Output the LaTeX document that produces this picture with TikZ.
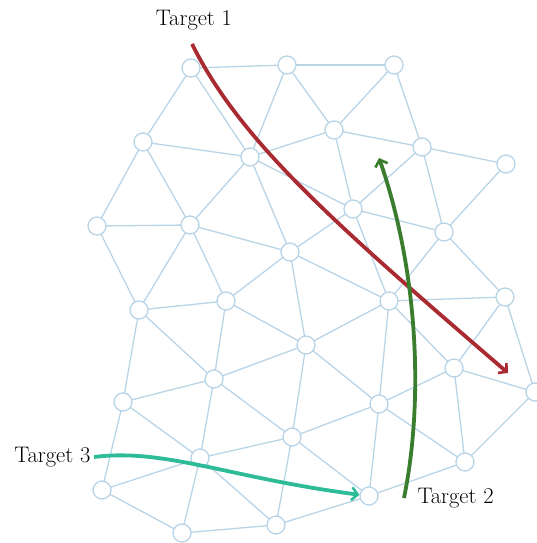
\documentclass[tikz,border=0pt]{standalone}
\usepackage{fontspec}
\usepackage{tikz}
\usetikzlibrary{arrows.meta,positioning}
\definecolor{mesh}{HTML}{B9D4E7}
\definecolor{pathone}{HTML}{A92B31}
\definecolor{pathtwo}{HTML}{3A7D2E}
\definecolor{paththree}{HTML}{2DBC97}

\begin{document}
\begin{tikzpicture}[x=1pt,y=-1pt,font=\fontsize{22.5}{26}\selectfont,
  vert/.style={circle,draw=mesh,fill=white,line width=1.3pt,minimum size=18pt,inner sep=0pt},
  edge/.style={draw=mesh,line width=1.3pt},
  route/.style={line width=3.8pt,-{Straight Barb[length=6pt,width=13pt,line width=2.6pt]}}]
\useasboundingbox (0,0) rectangle (537,543);
\coordinate (c1) at (191,68);  \coordinate (c2) at (287,65);  \coordinate (c3) at (394,65);
\coordinate (c4) at (143,142); \coordinate (c5) at (250,157); \coordinate (c6) at (334,130);
\coordinate (c7) at (422,147); \coordinate (c8) at (506,164); \coordinate (c9) at (97,226);
\coordinate (c10) at (190,225); \coordinate (c11) at (353,209); \coordinate (c12) at (444,232);
\coordinate (c13) at (290,252); \coordinate (c14) at (139,310); \coordinate (c15) at (226,301);
\coordinate (c16) at (389,301); \coordinate (c17) at (505,297); \coordinate (c18) at (306,345);
\coordinate (c19) at (454,368); \coordinate (c20) at (214,379); \coordinate (c21) at (535,392);
\coordinate (c22) at (123,402); \coordinate (c23) at (379,404); \coordinate (c24) at (292,437);
\coordinate (c25) at (200,458); \coordinate (c26) at (465,462); \coordinate (c27) at (102,490);
\coordinate (c28) at (369,496); \coordinate (c29) at (276,525); \coordinate (c30) at (182,533);
% mesh edges
\foreach \a/\b in {1/2,2/3,1/4,1/5,2/5,2/6,3/6,3/7,4/5,4/9,4/10,5/10,5/6,5/11,5/13,6/7,6/11,
  7/8,7/11,7/12,8/12,11/12,11/13,11/16,12/16,12/17,16/17,13/16,10/13,13/15,13/18,9/10,10/14,
  10/15,9/14,14/15,14/20,14/22,15/20,15/18,16/18,16/23,16/19,17/19,17/21,18/20,18/23,18/24,
  19/21,19/23,19/26,20/22,20/24,20/25,22/25,22/27,23/24,23/28,23/26,21/26,26/28,24/25,24/28,
  24/29,25/27,25/29,25/30,27/30,29/30,28/29}
  \draw[edge] (c\a) -- (c\b);
% vertices
\foreach \i in {1,...,30}
  \node[vert] (n\i) at (c\i) {};
% targets
\node (t1) at (194,20) {Target 1};
\node[anchor=west] (t2) at (414,498) {Target 2};
\node[anchor=east] (t3) at (94,457) {Target 3};
\coordinate (r0) at (192,44);
\coordinate (r1) at (508,373);
\coordinate (g0) at (404,498);
\coordinate (g1) at (379,158);
\draw[route,color=pathone] (r0) .. controls (240,140) and (330,220) .. (r1);
\draw[route,color=pathtwo] (g0) .. controls (424,400) and (418,270) .. (g1);
\draw[route,color=paththree] (t3.east) .. controls (165,448) and (230,478) .. (n28);
\end{tikzpicture}
\end{document}
